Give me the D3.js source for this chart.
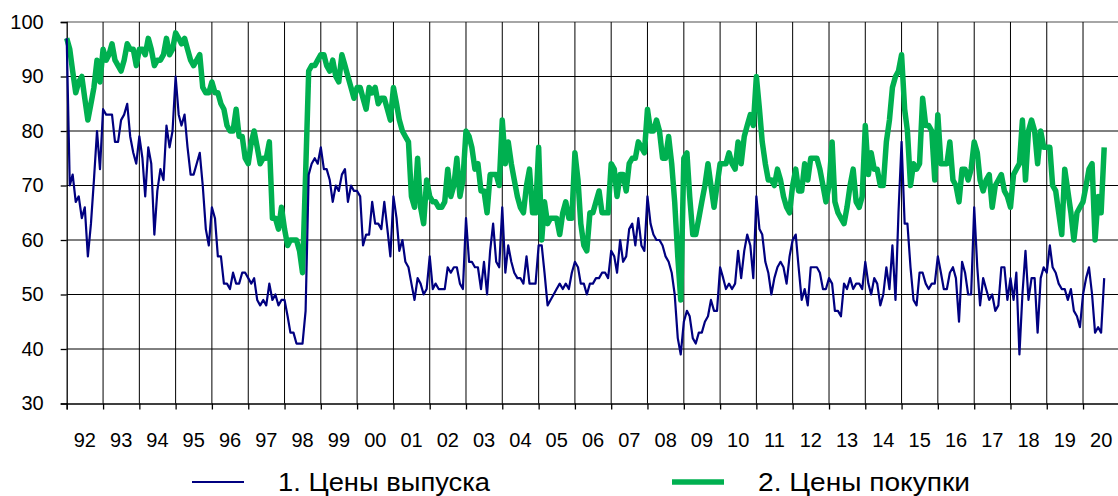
<!DOCTYPE html>
<html>
<head>
<meta charset="utf-8">
<script src="https://cdn.jsdelivr.net/npm/d3@7"></script>
<style>
  body { margin: 0; background: #fff; }
  text { font-family: "Liberation Sans", Arial, sans-serif; fill: #000; }
</style>
</head>
<body>
<script>

// monthly values, Jan 1992 .. Aug 2020
var yearLabels = ['92', '93', '94', '95', '96', '97', '98', '99', '00', '01', '02', '03', '04', '05',
    '06', '07', '08', '09', '10', '11', '12', '13', '14', '15', '16', '17', '18', '19', '20'];

var yTicks = [30, 40, 50, 60, 70, 80, 90, 100];

var seriesNames = ['1. Цены выпуска', '2. Цены покупки'];

// 1. output prices (blue)
var outputPrices = [
    97, 70, 72, 67, 68, 64, 66, 57, 63, 71, 80, 73,   // 92
    84, 83, 83, 83, 78, 78, 82, 83, 85, 79, 76, 74,   // 93
    79, 75, 68, 77, 74, 61, 69, 73, 71, 81, 77, 80,   // 94
    90, 83, 81, 83, 77, 72, 72, 74, 76, 70, 62, 59,   // 95
    66, 64, 57, 57, 52, 52, 51, 54, 52, 52, 54, 54,   // 96
    53, 52, 53, 49, 48, 49, 48, 52, 49, 50, 48, 49,   // 97
    49, 46, 43, 43, 41, 41, 41, 47, 72, 74, 75, 74,   // 98
    77, 73, 73, 71, 67, 70, 69, 72, 73, 67, 70, 69,   // 99
    69, 68, 59, 61, 61, 67, 63, 63, 62, 67, 62, 57,   // 00
    68, 64, 58, 60, 56, 55, 52, 49, 53, 52, 50, 51,   // 01
    57, 51, 52, 51, 51, 51, 55, 54, 55, 55, 52, 51,   // 02
    64, 56, 56, 55, 55, 51, 56, 50, 58, 63, 56, 55,   // 03
    66, 54, 59, 56, 54, 53, 53, 52, 57, 52, 52, 52,   // 04
    59, 59, 54, 48, 49, 50, 51, 52, 51, 52, 51, 54,   // 05
    56, 55, 52, 52, 50, 52, 52, 53, 53, 54, 54, 53,   // 06
    58, 57, 54, 60, 56, 57, 62, 63, 59, 64, 59, 58,   // 07
    68, 63, 61, 60, 60, 59, 57, 56, 54, 50, 42, 39,   // 08
    45, 47, 46, 42, 41, 43, 43, 45, 46, 49, 47, 47,   // 09
    55, 53, 51, 52, 51, 52, 58, 53, 58, 61, 59, 53,   // 10
    68, 62, 61, 56, 54, 50, 53, 55, 56, 55, 52, 57,   // 11
    60, 61, 55, 49, 51, 48, 55, 55, 55, 54, 51, 51,   // 12
    53, 52, 47, 47, 46, 52, 51, 53, 51, 52, 52, 51,   // 13
    56, 52, 50, 53, 52, 48, 50, 55, 51, 59, 49, 65,   // 14
    78, 63, 63, 55, 49, 48, 54, 54, 52, 51, 52, 52,   // 15
    57, 54, 51, 51, 54, 55, 53, 45, 56, 54, 50, 50,   // 16
    66, 55, 48, 53, 51, 49, 50, 47, 48, 55, 55, 49,   // 17
    53, 49, 54, 39, 50, 58, 49, 53, 53, 43, 53, 55,   // 18
    54, 59, 55, 54, 52, 51, 51, 49, 51, 47, 46, 44,   // 19
    50, 53, 55, 50, 43, 44, 43, 53                    // 20
];

// 2. input prices (green)
var inputPrices = [
    97, 95, 91, 87, 89, 90, 86, 82, 85, 88, 93, 89,   // 92
    95, 93, 94, 96, 93, 92, 91, 93, 96, 95, 95, 92,   // 93
    95, 95, 94, 97, 95, 92, 93, 93, 94, 97, 94, 95,   // 94
    98, 97, 96, 97, 95, 93, 92, 93, 94, 88, 87, 87,   // 95
    89, 87, 87, 85, 84, 81, 80, 80, 84, 79, 79, 75,   // 96
    74, 78, 80, 77, 74, 75, 75, 78, 64, 64, 62, 66,   // 97
    62, 59, 60, 60, 60, 58, 54, 72, 91, 92, 92, 93,   // 98
    94, 94, 92, 91, 93, 90, 89, 94, 92, 90, 88, 86,   // 99
    88, 88, 86, 84, 88, 87, 88, 85, 86, 86, 84, 82,   // 00
    88, 85, 82, 80, 79, 78, 68, 66, 75, 66, 63, 71,   // 01
    68, 67, 67, 66, 66, 67, 73, 68, 70, 75, 68, 71,   // 02
    80, 79, 77, 73, 74, 69, 69, 65, 72, 72, 72, 70,   // 03
    82, 74, 78, 74, 71, 68, 66, 65, 70, 73, 65, 65,   // 04
    77, 60, 67, 63, 64, 64, 64, 61, 65, 67, 64, 64,   // 05
    76, 71, 63, 59, 58, 65, 65, 67, 69, 65, 65, 65,   // 06
    74, 73, 68, 72, 72, 69, 74, 75, 75, 78, 77, 76,   // 07
    84, 80, 80, 82, 80, 75, 75, 79, 74, 67, 57, 49,   // 08
    75, 76, 68, 61, 61, 64, 67, 70, 74, 70, 66, 70,   // 09
    74, 74, 74, 76, 74, 73, 78, 74, 79, 81, 83, 81,   // 10
    90, 84, 78, 74, 71, 71, 70, 73, 71, 68, 66, 65,   // 11
    70, 73, 69, 69, 74, 71, 75, 75, 75, 73, 70, 67,   // 12
    70, 78, 67, 65, 64, 63, 66, 70, 73, 67, 66, 68,   // 13
    81, 72, 76, 73, 73, 70, 70, 78, 82, 88, 90, 91,   // 14
    94, 84, 80, 70, 74, 73, 74, 86, 81, 81, 80, 71,   // 15
    83, 74, 74, 74, 78, 71, 70, 67, 73, 73, 71, 73,   // 16
    78, 76, 71, 69, 71, 72, 66, 70, 71, 72, 69, 68,   // 17
    66, 72, 73, 74, 82, 71, 80, 82, 80, 74, 80, 77,   // 18
    77, 77, 70, 69, 65, 61, 73, 69, 65, 60, 65, 66,   // 19
    67, 70, 73, 74, 60, 68, 65, 77                    // 20
];


var svg = d3.select('body').append('svg')
    .attr('width', 1118)
    .attr('height', 496);

var plotLeft = 66.7, plotTop = 22, plotBottom = 403.5, plotRight = 1119.4;

var x = d3.scaleTime()
    .domain([new Date(1992, 0, 1), new Date(2021, 0, 1)])
    .range([plotLeft, plotRight]);

var y = d3.scaleLinear()
    .domain([30, 100])
    .range([plotBottom, plotTop]);

var yearStarts = yearLabels.map((d, i) => new Date(1992 + i, 0, 1));

// grid
svg.append('g').selectAll('line')
    .data(yTicks.slice(1))
    .enter().append('line')
    .attr('x1', plotLeft).attr('x2', 1118)
    .attr('y1', d => y(d)).attr('y2', d => y(d))
    .attr('stroke', d => d == 100 ? '#888' : '#000')
    .attr('stroke-width', d => d == 100 ? 1.6 : 1);

svg.append('g').selectAll('line')
    .data(yearStarts.slice(1))
    .enter().append('line')
    .attr('x1', d => x(d)).attr('x2', d => x(d))
    .attr('y1', plotTop).attr('y2', plotBottom)
    .attr('stroke', '#000')
    .attr('stroke-width', 1);

// axes
var yAxis = svg.append('g')
    .attr('transform', 'translate(' + plotLeft + ',0)')
    .call(d3.axisLeft(y).tickValues(yTicks).tickSize(6).tickPadding(17));

var xAxis = svg.append('g')
    .attr('transform', 'translate(0,' + plotBottom + ')')
    .call(d3.axisBottom(x).tickValues(yearStarts).tickSize(6).tickFormat(''));

[yAxis, xAxis].forEach(a => {
    a.selectAll('path, line').attr('stroke', '#000').attr('stroke-width', 1.3);
    a.selectAll('text').style('font-size', '20px').attr('fill', '#000');
});

// year labels in the middle of each year
svg.append('g').selectAll('text')
    .data(yearLabels)
    .enter().append('text')
    .attr('x', (d, i) => x(new Date(1992 + i, 6, 2)))
    .attr('y', 447)
    .attr('text-anchor', 'middle')
    .style('font-size', '20px')
    .text(d => d);

// lines
var line = d3.line()
    .x((d, i) => x(new Date(1992, i, 1)))
    .y(d => y(d));

svg.append('path')
    .datum(inputPrices)
    .attr('fill', 'none')
    .attr('stroke', '#00b050')
    .attr('stroke-width', 5.5)
    .attr('stroke-linejoin', 'round')
    .attr('d', line);

svg.append('path')
    .datum(outputPrices)
    .attr('fill', 'none')
    .attr('stroke', '#000080')
    .attr('stroke-width', 2.2)
    .attr('stroke-linejoin', 'round')
    .attr('d', line);

// legend
var legend = [
    { name: seriesNames[0], color: '#000080', width: 2.2, x: 192 },
    { name: seriesNames[1], color: '#00b050', width: 5.5, x: 672 }
];

var lg = svg.append('g').selectAll('g')
    .data(legend)
    .enter().append('g')
    .attr('transform', d => 'translate(' + d.x + ',482)');

lg.append('line')
    .attr('x1', 0).attr('x2', 52)
    .attr('stroke', d => d.color)
    .attr('stroke-width', d => d.width);

lg.append('text')
    .attr('x', 86)
    .attr('dy', '0.35em')
    .attr('textLength', 212)
    .attr('lengthAdjust', 'spacingAndGlyphs')
    .style('font-size', '25px')
    .text(d => d.name);

</script>
</body>
</html>
